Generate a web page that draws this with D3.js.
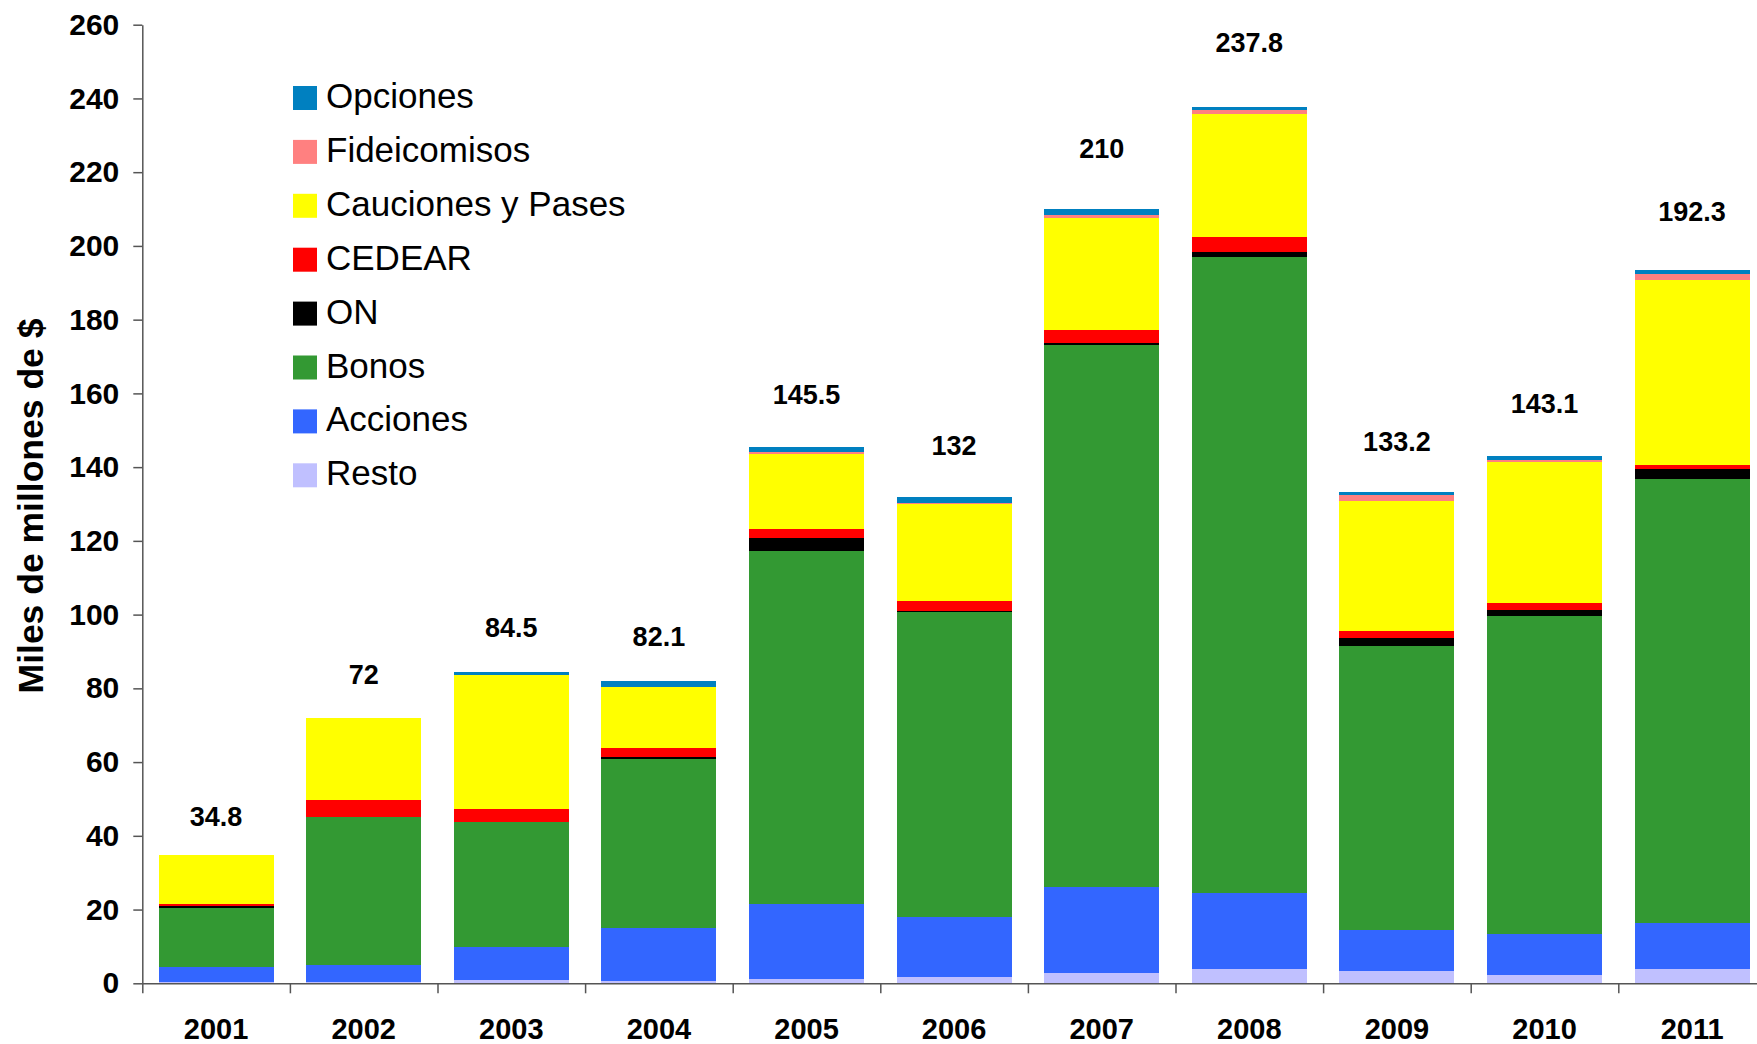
<!doctype html>
<html lang="es">
<head>
  <meta charset="utf-8">
  <title>Miles de millones de $</title>
  <script src="https://cdnjs.cloudflare.com/ajax/libs/d3/7.8.5/d3.min.js"></script>
  <style>
    body{
      margin:0;
      background:#fff;
    }
    svg text{
      font-family:"Liberation Sans", Arial, sans-serif;
    }
    .axis path,
    .axis line{
      stroke:#555;
      stroke-width:1.5px;
    }
    .axis text{
      font-size:29px;
      font-weight:bold;
      fill:#000;
    }
    .yaxis text{
      font-size:30px;
    }
  </style>
</head>
<body>
  <svg width="1757" height="1044"></svg>
  <script>

  // values (miles de millones de $)
  const years=["2001","2002","2003","2004","2005","2006","2007","2008","2009","2010","2011"];
  const resto=[0.4,0.4,0.9,0.6,1.2,1.7,2.8,4.0,3.3,2.25,3.9];
  const acciones=[4.0,4.6,9.0,14.5,20.4,16.3,23.2,20.5,11.2,11.2,12.45];
  const bonos=[16.1,40.1,33.9,45.7,95.6,82.8,147.1,172.5,77.0,86.2,120.45];
  const on=[0.55,0,0,0.6,3.5,0.3,0.6,1.3,2.15,1.65,2.7];
  const cedear=[0.55,4.6,3.5,2.4,2.4,2.6,3.5,4.1,1.9,1.9,1.1];
  const cauciones=[13.2,22.3,36.3,16.6,20.4,26.4,30.5,33.4,35.25,38.3,50.15];
  const fideicomisos=[0,0,0,0,0.5,0.3,0.7,1.0,1.6,0.5,1.6];
  const opciones=[0,0,0.9,1.7,1.5,1.6,1.6,1.0,0.8,1.1,1.1];
  const totalLabels=["34.8","72","84.5","82.1","145.5","132","210","237.8","133.2","143.1","192.3"];
  const yTicks=[0,20,40,60,80,100,120,140,160,180,200,220,240,260];

  // bottom to top
  const series=[
    {key:"Resto",values:resto,color:"#C0C0FF"},
    {key:"Acciones",values:acciones,color:"#3366FF"},
    {key:"Bonos",values:bonos,color:"#339933"},
    {key:"ON",values:on,color:"#000000"},
    {key:"CEDEAR",values:cedear,color:"#FF0000"},
    {key:"Cauciones y Pases",values:cauciones,color:"#FFFF00"},
    {key:"Fideicomisos",values:fideicomisos,color:"#FF8080"},
    {key:"Opciones",values:opciones,color:"#0080C0"}
  ];

  const table=years.map((y,i)=>{
    const row={year:y};
    series.forEach(s=>row[s.key]=s.values[i]);
    return row;
  });

  const svg=d3.select("svg");

  const x0=142.3;
  const step=147.6;

  const xScale=d3.scaleBand()
    .domain(years)
    .range([x0,x0+step*years.length])
    .paddingInner(0.22)
    .paddingOuter(0.11);

  const yScale=d3.scaleLinear()
    .domain([0,260])
    .range([983.3,24.7]);

  const stacked=d3.stack().keys(series.map(s=>s.key))(table);
  const color={};
  series.forEach(s=>color[s.key]=s.color);

  // bars
  svg.append("g")
    .selectAll("g")
    .data(stacked)
    .enter()
    .append("g")
    .attr("fill",d=>color[d.key])
    .selectAll("rect")
    .data(d=>d)
    .enter()
    .append("rect")
    .attr("x",d=>xScale(d.data.year))
    .attr("width",xScale.bandwidth())
    .attr("y",d=>yScale(d[1]))
    .attr("height",d=>yScale(d[0])-yScale(d[1]))
    .attr("shape-rendering","crispEdges");

  // y axis
  svg.append("g")
    .attr("class","axis yaxis")
    .attr("transform",`translate(${x0},0)`)
    .call(d3.axisLeft(yScale).tickValues(yTicks).tickSize(9).tickSizeOuter(0).tickPadding(14));

  // x axis line + boundary ticks
  const boundary=d3.scaleLinear().domain([0,years.length]).range([x0,x0+step*years.length]);
  svg.append("g")
    .attr("class","axis")
    .attr("transform",`translate(0,${yScale(0)})`)
    .call(d3.axisBottom(boundary).tickValues(d3.range(0,years.length+1)).tickFormat("").tickSize(10).tickSizeOuter(0));

  // year labels
  svg.append("g")
    .attr("class","axis")
    .attr("transform",`translate(0,${yScale(0)})`)
    .call(d3.axisBottom(xScale).tickSize(0).tickPadding(35))
    .call(g=>g.select(".domain").remove());

  // total labels, floating above each stack
  const tops=stacked[stacked.length-1];
  svg.append("g")
    .selectAll("text")
    .data(tops)
    .enter()
    .append("text")
    .attr("x",d=>xScale(d.data.year)+xScale.bandwidth()/2)
    .attr("y",d=>yScale(d[1]*1.035+9))
    .attr("text-anchor","middle")
    .attr("dominant-baseline","central")
    .style("font-size","27px")
    .style("font-weight","bold")
    .text((d,i)=>totalLabels[i]);

  // y title
  svg.append("text")
    .attr("transform","translate(43,506) rotate(-90)")
    .attr("text-anchor","middle")
    .style("font-size","35.5px")
    .style("font-weight","bold")
    .text("Miles de millones de $");

  // legend
  const legend=svg.append("g")
    .selectAll("g")
    .data(series.slice().reverse())
    .enter()
    .append("g")
    .attr("transform",(d,i)=>`translate(293,${86+i*53.9})`);

  legend.append("rect")
    .attr("width",24)
    .attr("height",24)
    .attr("fill",d=>d.color);

  legend.append("text")
    .attr("x",33)
    .attr("y",22)
    .style("font-size","35px")
    .text(d=>d.key);

  </script>
</body>
</html>
